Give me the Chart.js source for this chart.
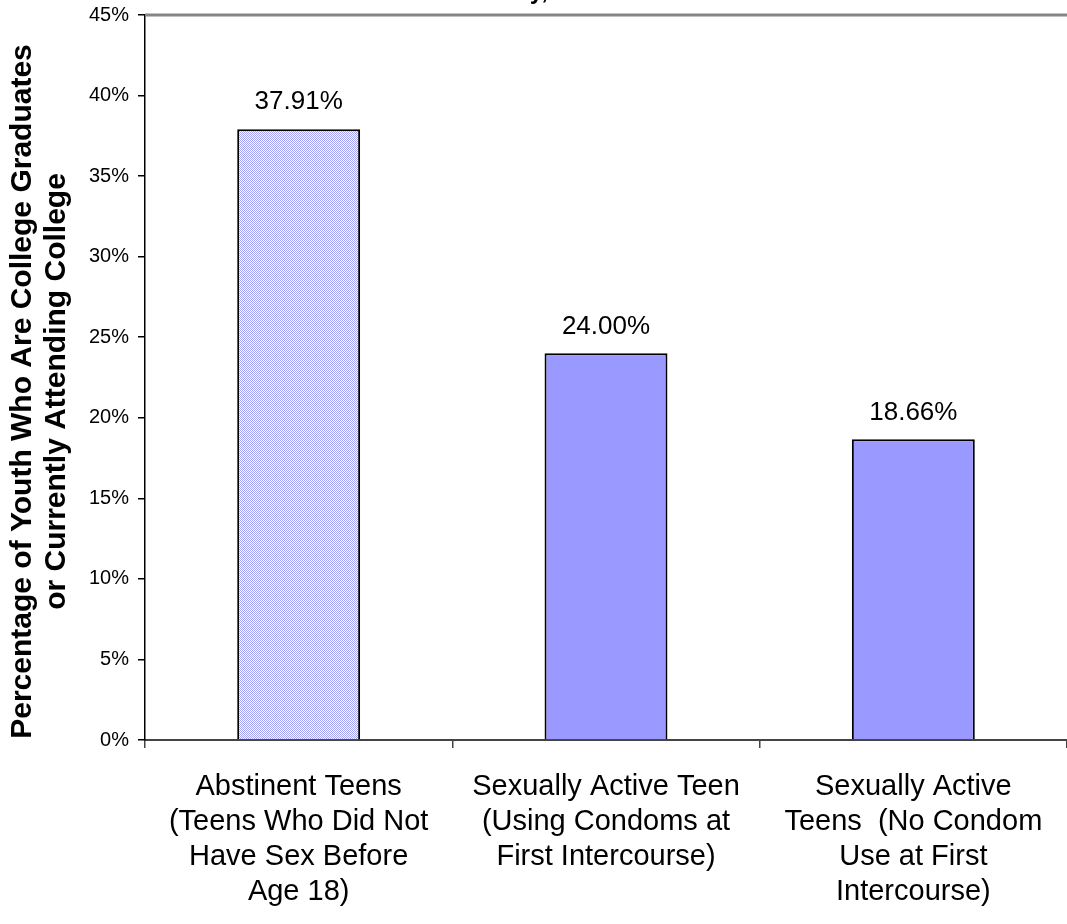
<!DOCTYPE html>
<html>
<head>
<meta charset="utf-8">
<script src="https://cdn.jsdelivr.net/npm/chart.js@4"></script>
<style>
  html, body { margin: 0; padding: 0; background: #ffffff; }
  #collegeChart { display: block; }
</style>
</head>
<body>
<canvas id="collegeChart" width="1067" height="924"></canvas>
<script>
const groups = [
  ['Abstinent Teens', '(Teens Who Did Not', 'Have Sex Before', 'Age 18)'],
  ['Sexually Active Teen', '(Using Condoms at', 'First Intercourse)'],
  ['Sexually Active', 'Teens  (No Condom', 'Use at First', 'Intercourse)']
];
const collegeShare = [37.91, 24.00, 18.66];
const yTicks = [0, 5, 10, 15, 20, 25, 30, 35, 40, 45];
const yTitle = ['Percentage of Youth Who Are College Graduates', 'or Currently Attending College'];

const FONT = "'Liberation Sans', Arial, Helvetica, sans-serif";

// fine dotted fill for the abstinent bar
function dotPattern() {
  const c = document.createElement('canvas');
  c.width = 2; c.height = 2;
  const g = c.getContext('2d');
  g.fillStyle = '#ffffff';
  g.fillRect(0, 0, 2, 2);
  g.fillStyle = '#a2a2f4';
  g.fillRect(0, 0, 1, 1);
  g.fillRect(1, 1, 1, 1);
  return g.createPattern(c, 'repeat');
}

const ctx = document.getElementById('collegeChart').getContext('2d');

// value labels over the bars
const valueLabels = {
  id: 'valueLabels',
  afterDatasetsDraw(chart) {
    const c = chart.ctx;
    const meta = chart.getDatasetMeta(0);
    c.save();
    c.font = '26px ' + FONT;
    c.fillStyle = '#000';
    c.textAlign = 'center';
    c.textBaseline = 'middle';
    meta.data.forEach((bar, i) => {
      c.fillText(collegeShare[i].toFixed(2) + '%', bar.x, bar.y - 27);
    });
    c.restore();
  }
};

// gray rule along the top of the plot, the clipped heading above it,
// and the two-line rotated y title (sits a little below the axis middle)
const frame = {
  id: 'frame',
  beforeDatasetsDraw(chart) {
    const c = chart.ctx;
    const a = chart.chartArea;
    c.save();
    c.strokeStyle = '#858585';
    c.lineWidth = 3;
    c.beginPath();
    c.moveTo(a.left, a.top);
    c.lineTo(chart.width, a.top);
    c.stroke();

    c.font = 'bold 24px ' + FONT;
    c.fillStyle = '#000';
    c.textAlign = 'right';
    c.textBaseline = 'alphabetic';
    c.fillText('Activity,', 548, -1);

    c.font = 'bold 30px ' + FONT;
    c.textAlign = 'center';
    c.textBaseline = 'middle';
    c.translate(0, (a.top + a.bottom) / 2 + 14);
    c.rotate(-Math.PI / 2);
    yTitle.forEach((line, i) => c.fillText(line, 0, 23 + i * 34));
    c.restore();
  }
};

new Chart(ctx, {
  type: 'bar',
  data: {
    labels: groups,
    datasets: [{
      data: collegeShare,
      backgroundColor: [dotPattern(), '#9999ff', '#9999ff'],
      borderColor: '#000000',
      borderWidth: 2,
      borderSkipped: 'bottom',
      barPercentage: 0.4,
      categoryPercentage: 1.0
    }]
  },
  options: {
    responsive: false,
    animation: false,
    layout: { padding: { top: 15, right: 0, left: 0, bottom: 0 } },
    plugins: {
      legend: { display: false },
      tooltip: { enabled: false }
    },
    scales: {
      x: {
        afterFit(scale) { scale.height = 184; },
        border: { display: true, color: '#444444', width: 2 },
        grid: {
          offset: true,
          drawOnChartArea: false,
          drawTicks: true,
          tickLength: 8,
          color: '#444444',
          lineWidth: 1.5
        },
        ticks: {
          color: '#000',
          padding: 22,
          maxRotation: 0,
          autoSkip: false,
          font: { family: FONT, size: 29, lineHeight: 1.2 }
        }
      },
      y: {
        min: 0,
        max: 45,
        afterFit(scale) {
          scale.width = 145;
          scale.paddingTop = 0;
          scale.paddingBottom = 0;
        },
        afterBuildTicks(scale) { scale.ticks = yTicks.map(v => ({ value: v })); },
        border: { display: true, color: '#000000', width: 1.5 },
        grid: {
          drawOnChartArea: false,
          drawTicks: true,
          tickLength: 7,
          color: '#000000',
          lineWidth: 1.5
        },
        ticks: {
          color: '#000',
          padding: 9,
          font: { family: FONT, size: 20 },
          callback: v => v + '%'
        }
      }
    }
  },
  plugins: [valueLabels, frame]
});
</script>
</body>
</html>
